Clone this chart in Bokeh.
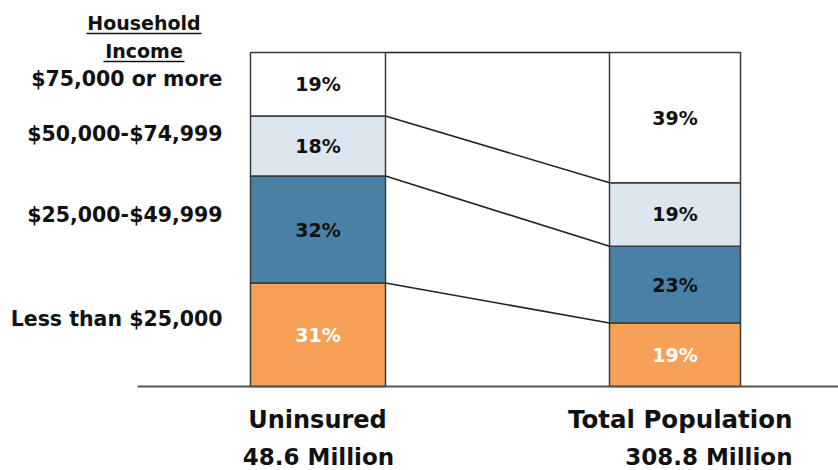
from bokeh.plotting import figure
from bokeh.models import Range1d
from bokeh.core.properties import value
from bokeh.embed import file_html
from bokeh.resources import INLINE

# ---- data -------------------------------------------------------------
income_groups = ["Less than $25,000", "$25,000-$49,999",
                 "$50,000-$74,999", "$75,000 or more"]
uninsured_pct = [31, 32, 18, 19]
total_pop_pct = [19, 23, 19, 39]
group_names = ["Uninsured", "Total Population"]
group_sizes = ["48.6 Million", "308.8 Million"]

# ---- style / layout ---------------------------------------------------
colors = ["#F7A058", "#4A80A6", "#DCE6EE", "#FFFFFF"]
text_colors = ["#FFFFFF", "#111111", "#111111", "#111111"]
FONT = value("DejaVu Sans")
W, H = 838, 470
BASE_PX = 386.0          # pixel row of the 0% baseline
PX_PER_PCT = 3.34        # pixels per percentage point
BAR_X = [317.5, 674.5]
BAR_W = [135, 131]


def to_y(px):
    """pixel row -> percent units on the y scale"""
    return (BASE_PX - px) / PX_PER_PCT


p = figure(width=W, height=H, output_backend="svg", toolbar_location=None,
           x_range=Range1d(0, W), y_range=Range1d(to_y(H), to_y(0)),
           min_border=0, outline_line_color=None)
p.axis.visible = False
p.grid.visible = False
p.background_fill_color = "white"

# stacked bars
for bx, bw, series in zip(BAR_X, BAR_W, [uninsured_pct, total_pop_pct]):
    bottoms, tops = [], []
    acc = 0
    for v in series:
        bottoms.append(acc)
        acc += v
        tops.append(acc)
    p.vbar(x=[bx] * len(series), width=bw, bottom=bottoms, top=tops,
           fill_color=colors, line_color="#3A3A3A", line_width=1.5)
    mids = [(b + t) / 2 for b, t in zip(bottoms, tops)]
    p.text(x=[bx] * len(series), y=mids, text=[f"{v}%" for v in series],
           text_align="center", text_baseline="middle",
           text_font=FONT, text_font_style="bold", text_font_size="19px",
           text_color=text_colors)

# connectors between the segment boundaries of the two bars
cum_u, cum_t = [], []
au = at = 0
for u, t in zip(uninsured_pct, total_pop_pct):
    au += u
    at += t
    cum_u.append(au)
    cum_t.append(at)
x_right_u = BAR_X[0] + BAR_W[0] / 2
x_left_t = BAR_X[1] - BAR_W[1] / 2
p.segment(x0=[x_right_u] * 4, y0=cum_u, x1=[x_left_t] * 4, y1=cum_t,
          line_color="#222222", line_width=1.6)

# baseline
p.segment(x0=[137], y0=[0], x1=[W], y1=[0], line_color="#555555", line_width=2)

# income labels on the left
label_py = [318, 214, 133, 78]
p.text(x=[222] * 4, y=[to_y(v) for v in label_py], text=income_groups,
       text_align="right", text_baseline="middle",
       text_font=FONT, text_font_style="bold", text_font_size="20.5px",
       text_color="#111111")

# header "Household Income" (underlined)
p.text(x=[143.5, 143.5], y=[to_y(22), to_y(50)], text=["Household", "Income"],
       text_align="center", text_baseline="middle",
       text_font=FONT, text_font_style="bold", text_font_size="19px",
       text_color="#111111")
p.segment(x0=[86, 103], y0=[to_y(33), to_y(61)], x1=[201, 184],
          y1=[to_y(33), to_y(61)], line_color="#111111", line_width=1.5)

# group labels below the bars
p.text(x=[317], y=[to_y(419)], text=[group_names[0]], text_align="center",
       text_baseline="middle", text_font=FONT, text_font_style="bold",
       text_font_size="24px", text_color="#111111")
p.text(x=[318], y=[to_y(456)], text=[group_sizes[0]], text_align="center",
       text_baseline="middle", text_font=FONT, text_font_style="bold",
       text_font_size="23px", text_color="#111111")
p.text(x=[792, 792], y=[to_y(419), to_y(456)],
       text=[group_names[1], group_sizes[1]], text_align="right",
       text_baseline="middle", text_font=FONT, text_font_style="bold",
       text_font_size=["24.5px", "23px"], text_color="#111111")

open("out.html", "w").write(file_html(p, INLINE))
